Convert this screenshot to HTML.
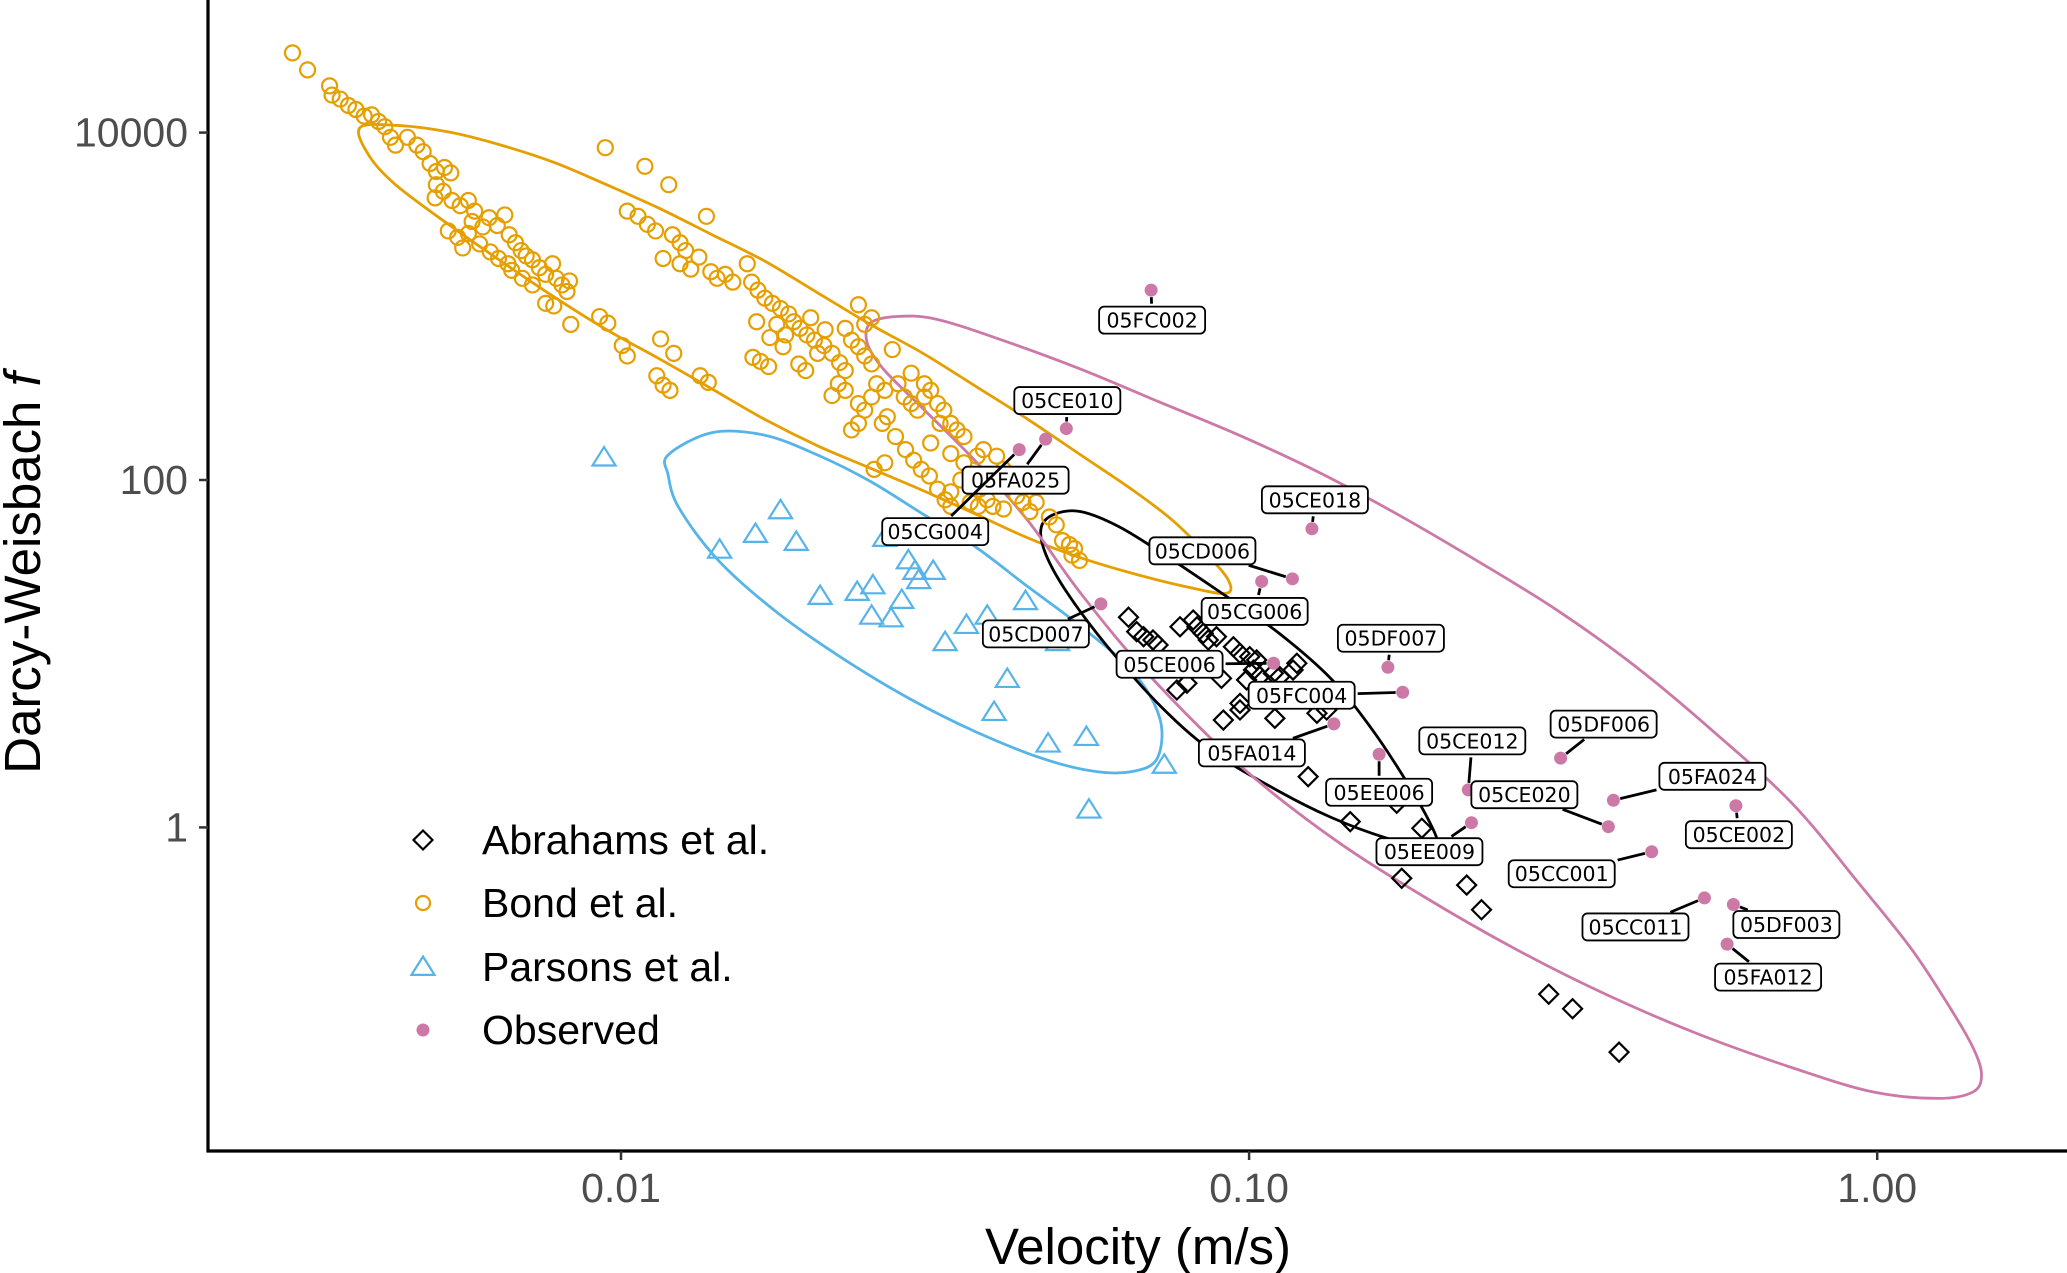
<!DOCTYPE html>
<html><head><meta charset="utf-8"><style>
html,body{margin:0;padding:0;background:#fff;}
svg{display:block;}
</style></head><body>
<svg id="chart" width="2067" height="1273" viewBox="0 0 2067 1273" xmlns="http://www.w3.org/2000/svg" font-family="Liberation Sans, sans-serif">
<rect width="2067" height="1273" fill="#fff"/>
<g id="ellipses"></g>
<g id="points"></g>
<g id="labels"></g>
<g id="axes"></g>
<g id="legend"></g>
<text x="1138" y="1264" font-size="51" text-anchor="middle" fill="#000">Velocity (m/s)</text>
<text transform="translate(40,573) rotate(-90)" font-size="51" text-anchor="middle" fill="#000">Darcy-Weisbach <tspan font-style="italic">f</tspan></text>
</svg>
<script>
// ---- data (log10 velocity, log10 friction factor) ----
const xTickValues=[0.01,0.1,1];
const xTickLabels=["0.01","0.10","1.00"];
const yTickValues=[1,100,10000];
const yTickLabels=["1","100","10000"];

const abrLogV=[-1.192,-1.179,-1.168,-1.153,-1.145,-1.110,-1.089,-1.083,-1.073,-1.065,-1.052,-1.044,-1.025,-1.0145,-0.999,-0.988,-0.993,-1.004,-0.983,-0.9615,-0.951,-0.924,-0.930,-1.099,-1.115,-1.041,-1.0145,-1.0145,-0.959,-0.892,-0.8765,-0.906,-0.839,-0.725,-0.765,-0.757,-0.6536,-0.630,-0.523,-0.485,-0.411];
const abrLogF=[1.210,1.127,1.098,1.079,1.050,1.155,1.194,1.155,1.117,1.079,1.098,0.858,1.040,1.002,0.983,0.964,0.906,0.849,0.868,0.887,0.868,0.945,0.906,0.830,0.791,0.618,0.714,0.676,0.628,0.657,0.676,0.292,0.033,-0.005,0.139,-0.293,-0.332,-0.474,-0.960,-1.044,-1.294];

const parLogV=[-2.027,-1.843,-1.786,-1.746,-1.721,-1.683,-1.624,-1.599,-1.601,-1.570,-1.553,-1.5425,-1.532,-1.526,-1.503,-1.484,-1.450,-1.417,-1.406,-1.385,-1.356,-1.320,-1.305,-1.259,-1.255,-1.135,-1.580];
const parLogF=[2.129,1.598,1.689,1.825,1.643,1.332,1.355,1.393,1.218,1.203,1.309,1.537,1.476,1.423,1.476,1.066,1.165,1.218,0.664,0.854,1.302,0.482,1.066,0.520,0.102,0.360,1.666];

const bondLogV=[-2.523,-2.499,-2.464,-2.460,-2.447,-2.434,-2.422,-2.409,-2.397,-2.386,-2.376,-2.367,-2.359,-2.340,-2.325,-2.315,-2.304,-2.294,-2.281,-2.271,-2.294,-2.296,-2.283,-2.269,-2.256,-2.243,-2.233,-2.237,-2.220,-2.210,-2.197,-2.185,-2.178,-2.168,-2.159,-2.151,-2.141,-2.130,-2.120,-2.109,-2.103,-2.094,-2.086,-2.082,-2.107,-2.120,-2.141,-2.157,-2.174,-2.195,-2.208,-2.225,-2.243,-2.260,-2.275,-2.252,-2.180,-2.080,-2.034,-2.021,
-2.025,-1.962,-1.924,-1.990,-1.973,-1.958,-1.945,-1.933,-1.918,-1.906,-1.897,-1.906,-1.889,-1.876,-1.864,-1.857,-1.847,-1.834,-1.822,-1.799,-1.792,-1.782,-1.771,-1.759,-1.746,-1.733,-1.725,-1.715,-1.704,-1.692,-1.738,-1.742,-1.752,-1.763,-1.784,-1.790,-1.778,-1.765,-1.717,-1.706,-1.687,-1.677,-1.664,-1.652,-1.643,-1.633,-1.622,-1.612,-1.601,-1.675,-1.698,-1.664,-1.654,-1.643,-1.622,-1.612,-1.601,-1.593,-1.580,-1.559,-1.549,-1.538,-1.528,-1.517,-1.507,-1.496,-1.486,-1.475,-1.465,-1.454,-1.563,-1.547,-1.534,-1.522,-1.509,-1.496,-1.484,-1.475,-1.454,-1.444,-1.433,-1.423,-1.402,-1.391,-1.381,-1.370,-1.360,-1.444,-1.431,-1.417,-1.408,-1.429,-1.492,-1.507,-1.318,-1.307,-1.297,-1.286,-1.278,-1.270,-1.282,-1.475,-1.937,-1.916,-1.998,-1.943,-1.933,-1.922,-1.874,-1.861,-1.990,-1.601,-1.622,-1.612,-1.643,-1.568,-1.538,-1.517,-1.475,-1.459,-1.576,-1.584,-1.633,-1.622,-1.597,-1.580,-1.391,-1.349,-1.339];
const bondLogF=[4.459,4.361,4.269,4.216,4.193,4.156,4.133,4.095,4.102,4.064,4.034,3.973,3.928,3.973,3.928,3.890,3.822,3.776,3.799,3.768,3.700,3.624,3.662,3.609,3.579,3.609,3.548,3.488,3.457,3.510,3.465,3.526,3.412,3.366,3.321,3.290,3.268,3.222,3.184,3.245,3.161,3.123,3.085,3.146,3.002,3.017,3.123,3.161,3.207,3.275,3.313,3.359,3.419,3.397,3.434,3.336,3.245,2.896,2.941,2.903,
3.913,3.806,3.700,3.548,3.518,3.472,3.434,3.275,3.412,3.366,3.321,3.245,3.214,3.283,3.518,3.199,3.161,3.184,3.139,3.245,3.139,3.093,3.047,3.017,2.987,2.956,2.911,2.873,2.835,2.805,2.835,2.767,2.896,2.820,2.911,2.706,2.683,2.653,2.668,2.630,2.729,2.774,2.729,2.676,2.630,2.805,2.767,2.714,2.668,2.865,2.934,2.486,2.554,2.516,2.440,2.402,2.478,2.554,2.516,2.554,2.478,2.440,2.402,2.478,2.516,2.440,2.402,2.326,2.288,2.250,2.250,2.175,2.114,2.061,2.023,1.947,1.886,1.932,2.099,2.023,2.137,2.175,2.137,2.061,2.023,1.909,1.871,1.871,1.848,1.886,1.848,1.947,2.326,2.213,1.787,1.742,1.651,1.628,1.605,1.537,1.567,1.848,2.812,2.729,2.774,2.600,2.546,2.516,2.600,2.562,2.714,2.934,3.009,2.896,2.873,2.751,2.615,2.554,2.152,2.000,2.364,2.326,2.288,2.326,2.061,2.099,1.833,1.818,1.871];

const obsNames=["05FC002","05CE010","05FA025","05CG004","05CE018","05CD006","05CG006","05CD007","05CE006","05DF007","05FC004","05FA014","05EE006","05CE012","05EE009","05CE020","05DF006","05FA024","05CE002","05CC001","05CC011","05DF003","05FA012"];
const obsLogV=[-1.156,-1.291,-1.324,-1.366,-0.900,-0.931,-0.980,-1.236,-0.961,-0.779,-0.7555,-0.865,-0.793,-0.651,-0.646,-0.428,-0.504,-0.420,-0.225,-0.359,-0.275,-0.229,-0.239];
const obsLogF=[3.093,2.296,2.235,2.175,1.719,1.431,1.416,1.287,0.945,0.922,0.778,0.596,0.421,0.216,0.027,0.004,0.399,0.156,0.125,-0.140,-0.406,-0.444,-0.672];
const labelDx=[1,1,-30,-84,3,-90,-7,-65,-104,3,-101,-82,0,4,-42,-84,43,99,3,-90,-69,53,41];
const labelDy=[30,-28,41,82,-29,-28,30,30,1,-29,3,29,38,-49,29,-32,-34,-24,29,22,29,20,33];

const bondEllV=[-2.416,-2.359,-2.275,-2.191,-2.107,-2.023,-1.939,-1.855,-1.771,-1.687,-1.603,-1.519,-1.435,-1.352,-1.268,-1.184,-1.121,-1.068,-1.033,-1.037,-1.100,-1.184,-1.268,-1.352,-1.435,-1.519,-1.603,-1.687,-1.771,-1.855,-1.939,-2.023,-2.107,-2.191,-2.275,-2.359,-2.401];
const bondEllF=[4.027,4.042,4.004,3.928,3.829,3.700,3.564,3.412,3.260,3.078,2.896,2.729,2.539,2.349,2.144,1.939,1.765,1.575,1.423,1.347,1.385,1.461,1.552,1.666,1.803,1.939,2.068,2.197,2.349,2.524,2.698,2.865,3.055,3.260,3.472,3.700,3.867];
const parEllV=[-1.925,-1.855,-1.771,-1.687,-1.603,-1.519,-1.435,-1.352,-1.268,-1.184,-1.142,-1.146,-1.184,-1.247,-1.331,-1.435,-1.540,-1.645,-1.750,-1.845,-1.908,-1.925];
const parEllF=[2.144,2.273,2.258,2.144,1.992,1.803,1.613,1.385,1.158,0.892,0.626,0.399,0.323,0.323,0.399,0.550,0.740,0.968,1.233,1.537,1.841,2.030];
const abrEllV=[-1.331,-1.310,-1.268,-1.205,-1.121,-1.037,-0.953,-0.869,-0.806,-0.753,-0.711,-0.701,-0.722,-0.785,-0.869,-0.953,-1.058,-1.142,-1.226,-1.289,-1.324];
const abrEllF=[1.727,1.803,1.818,1.727,1.537,1.332,1.120,0.854,0.573,0.285,0.019,-0.095,-0.110,-0.057,0.057,0.209,0.436,0.702,1.044,1.347,1.575];
const obsEllV=[-1.603,-1.561,-1.498,-1.393,-1.268,-1.142,-1.016,-0.890,-0.764,-0.638,-0.512,-0.386,-0.260,-0.134,-0.029,0.055,0.117,0.153,0.166,0.153,0.097,-0.008,-0.134,-0.281,-0.428,-0.575,-0.722,-0.869,-1.016,-1.163,-1.268,-1.352,-1.435,-1.519,-1.582,-1.608];
const obsEllF=[2.903,2.941,2.926,2.805,2.638,2.448,2.258,2.046,1.803,1.537,1.256,0.930,0.550,0.133,-0.323,-0.702,-1.044,-1.271,-1.423,-1.522,-1.560,-1.522,-1.385,-1.195,-0.968,-0.702,-0.398,-0.057,0.361,0.892,1.347,1.765,2.106,2.410,2.638,2.789];

// ---- scales ----
const X0=208, YB=1151;
function sx(lv){return 621+628.1*(lv+2);}
function sy(lf){return 480-173.7*(lf-2);}
const NS="http://www.w3.org/2000/svg";
function mk(tag,attrs,parent){const e=document.createElementNS(NS,tag);for(const k in attrs)e.setAttribute(k,attrs[k]);parent.appendChild(e);return e;}
const C={abr:"#000000",bond:"#E69F00",par:"#56B4E9",obs:"#CC79A7"};

function closedPath(vs,fs){
  const p=vs.map((v,i)=>[sx(v),sy(fs[i])]);const n=p.length;
  let d="M"+p[0][0].toFixed(1)+","+p[0][1].toFixed(1);
  for(let i=0;i<n;i++){
    const p0=p[(i-1+n)%n],p1=p[i],p2=p[(i+1)%n],p3=p[(i+2)%n];
    const c1=[p1[0]+(p2[0]-p0[0])/6,p1[1]+(p2[1]-p0[1])/6];
    const c2=[p2[0]-(p3[0]-p1[0])/6,p2[1]-(p3[1]-p1[1])/6];
    d+="C"+c1[0].toFixed(1)+","+c1[1].toFixed(1)+" "+c2[0].toFixed(1)+","+c2[1].toFixed(1)+" "+p2[0].toFixed(1)+","+p2[1].toFixed(1);
  }
  return d+"Z";
}
const eg=document.getElementById("ellipses");
let el;
el=mk("path",{d:closedPath(bondEllV,bondEllF),fill:"none",stroke:C.bond,"stroke-width":2.8},eg);


el=mk("path",{d:closedPath(parEllV,parEllF),fill:"none",stroke:C.par,"stroke-width":2.8},eg);


el=mk("path",{d:closedPath(abrEllV,abrEllF),fill:"none",stroke:C.abr,"stroke-width":2.8},eg);


el=mk("path",{d:closedPath(obsEllV,obsEllF),fill:"none",stroke:C.obs,"stroke-width":2.8},eg);



const pg=document.getElementById("points");
function diamond(x,y,s){return `M${x},${y-s}L${x+s},${y}L${x},${y+s}L${x-s},${y}Z`;}
function tri(x,y,s){return `M${x},${y-s}L${x+s*1.1},${y+s*0.75}L${x-s*1.1},${y+s*0.75}Z`;}
bondLogV.forEach((v,i)=>{
  const c=mk("circle",{cx:sx(v),cy:sy(bondLogF[i]),r:7.5,fill:"none",stroke:C.bond,"stroke-width":2.2},pg);
  
  
});
parLogV.forEach((v,i)=>{
  const t=mk("path",{d:tri(sx(v),sy(parLogF[i]),10.5),fill:"none",stroke:C.par,"stroke-width":2.2},pg);
  
  
});
abrLogV.forEach((v,i)=>{
  const t=mk("path",{d:diamond(sx(v),sy(abrLogF[i]),9.5),fill:"none",stroke:C.abr,"stroke-width":2.2},pg);
  
  
});
obsLogV.forEach((v,i)=>{
  const c=mk("circle",{cx:sx(v),cy:sy(obsLogF[i]),r:6.5,fill:C.obs},pg);
  
  
});

// ---- labels with short leaders ----
const lg=document.getElementById("labels");
const W=106,H=27;
obsNames.forEach((nm,i)=>{
  const px=sx(obsLogV[i]),py=sy(obsLogF[i]);
  const lx=px+labelDx[i],ly=py+labelDy[i];
  // intersection of segment label-center -> point with box edge
  const dx=px-lx,dy=py-ly;
  const tx=dx!==0?(W/2)/Math.abs(dx):Infinity, ty=dy!==0?(H/2)/Math.abs(dy):Infinity;
  const te=Math.min(tx,ty);
  if(te<1){
    const ex=lx+dx*te,ey=ly+dy*te;
    const L=Math.hypot(px-ex,py-ey);
    if(L>14){
      const ux=(px-ex)/L,uy=(py-ey)/L;
      const ln=mk("line",{x1:ex+ux*3,y1:ey+uy*3,x2:px-ux*7,y2:py-uy*7,stroke:"#000","stroke-width":2.8},lg);
      
      
    }
  }
  const g=mk("g",{},lg);
  
  
  mk("rect",{x:lx-W/2,y:ly-H/2,width:W,height:H,rx:5,fill:"#fff",stroke:"#000","stroke-width":1.8},g);
  const t=mk("text",{x:lx,y:ly+7.5,"font-size":20.5,"text-anchor":"middle","font-family":"DejaVu Sans, sans-serif",fill:"#000"},g);
  t.textContent=nm;
});

// ---- axes ----
const ag=document.getElementById("axes");
el=mk("line",{x1:X0,y1:0,x2:X0,y2:YB+1.5,stroke:"#000","stroke-width":3.2},ag);


el=mk("line",{x1:X0-1.5,y1:YB,x2:2067,y2:YB,stroke:"#000","stroke-width":3.2},ag);


xTickValues.forEach((v,i)=>{
  const x=sx(Math.log10(v));
  const tk=mk("line",{x1:x,y1:YB,x2:x,y2:YB+9,stroke:"#333","stroke-width":2.5},ag);
  
  
  const t=mk("text",{x:x,y:1202,"font-size":41,"text-anchor":"middle",fill:"#4d4d4d"},ag);
  
  
  t.textContent=xTickLabels[i];
});
yTickValues.forEach((v,i)=>{
  const y=sy(Math.log10(v));
  const tk=mk("line",{x1:X0-9,y1:y,x2:X0,y2:y,stroke:"#333","stroke-width":2.5},ag);
  
  
  const t=mk("text",{x:188,y:y+14,"font-size":41,"text-anchor":"end",fill:"#4d4d4d"},ag);
  
  
  t.textContent=yTickLabels[i];
});

// ---- legend ----
const leg=document.getElementById("legend");
const legNames=["Abrahams et al.","Bond et al.","Parsons et al.","Observed"];
const legY=[840,903,967,1030];
legNames.forEach((nm,i)=>{
  const g=mk("g",{},leg);
  
  
  const y=legY[i],x=423;
  if(i===0) mk("path",{d:diamond(x,y,9.5),fill:"none",stroke:C.abr,"stroke-width":2.2},g);
  if(i===1) mk("circle",{cx:x,cy:y,r:7,fill:"none",stroke:C.bond,"stroke-width":2.2},g);
  if(i===2) mk("path",{d:tri(x,y,10.5),fill:"none",stroke:C.par,"stroke-width":2.2},g);
  if(i===3) mk("circle",{cx:x,cy:y,r:6.5,fill:C.obs},g);
  const t=mk("text",{x:482,y:y+14,"font-size":41,fill:"#000"},g);
  t.textContent=nm;
});
</script>
</body></html>
